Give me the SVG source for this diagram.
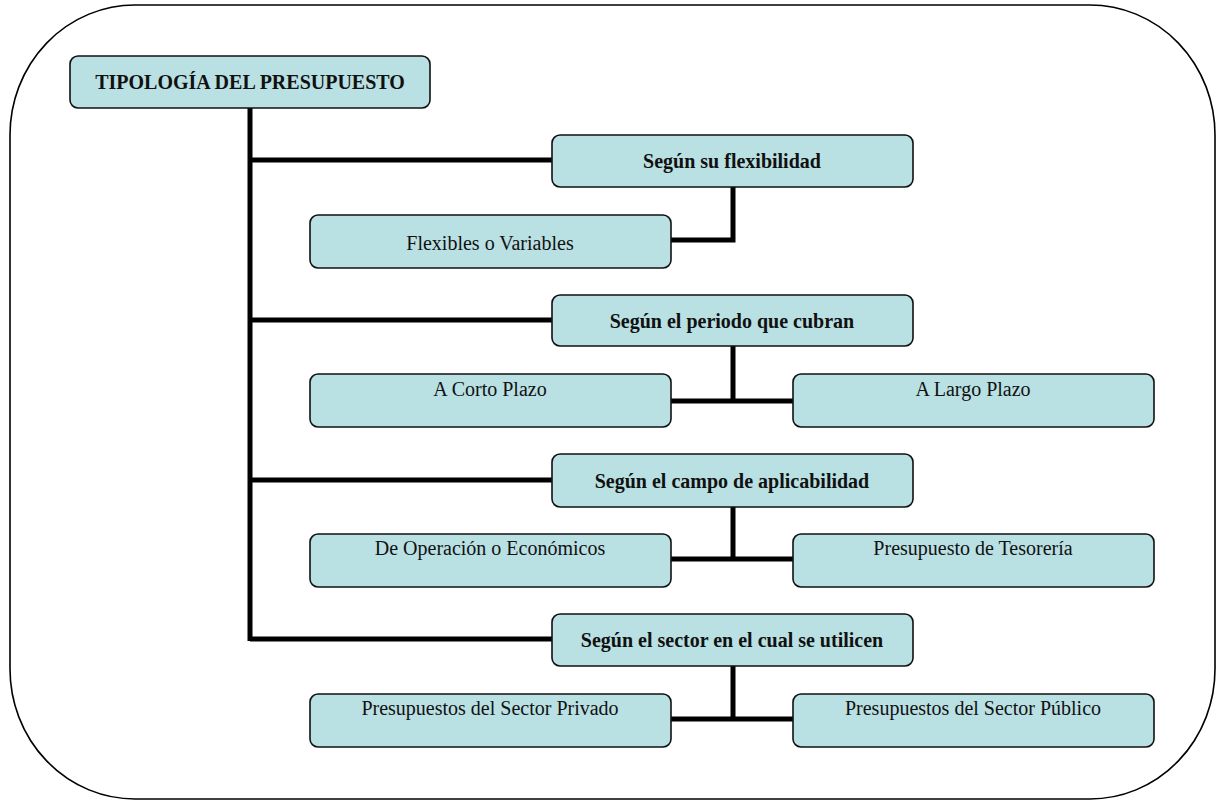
<svg xmlns="http://www.w3.org/2000/svg" width="1224" height="800" viewBox="0 0 1224 800">
<style>
.box{fill:#b9e0e3;stroke:#111;stroke-width:1.6}
.t{font-family:"Liberation Serif","Times New Roman",serif;font-size:20px;fill:#111;text-anchor:middle}
.b{font-weight:bold}
.c{fill:none;stroke:#000;stroke-width:5}
</style>
<rect x="0" y="0" width="1224" height="800" fill="#fff"/>
<rect id="frame" x="10" y="5" width="1205" height="794" rx="125" ry="130" fill="none" stroke="#000" stroke-width="1.6"/>
<g id="connectors">
<path class="c" d="M250 108 V641"/>
<path class="c" d="M250 160 H552"/>
<path class="c" d="M250 320 H552"/>
<path class="c" d="M250 480 H552"/>
<path class="c" d="M250 639 H552"/>
<path class="c" d="M733 187 V240 H671"/>
<path class="c" d="M733 346 V401"/>
<path class="c" d="M671 401 H793"/>
<path class="c" d="M733 507 V559"/>
<path class="c" d="M671 559 H793"/>
<path class="c" d="M733 666 V719"/>
<path class="c" d="M671 719 H793"/>
</g>
<g id="root"><rect class="box" x="70" y="56" width="360" height="52" rx="8"/><text class="t b" x="250" y="89">TIPOLOGÍA DEL PRESUPUESTO</text></g>
<g id="flex"><rect class="box" x="552" y="135" width="361" height="52" rx="8"/><text class="t b" x="732" y="168">Según su flexibilidad</text></g>
<g id="flexibles"><rect class="box" x="310" y="215" width="361" height="53" rx="8"/><text class="t" x="490" y="250">Flexibles o Variables</text></g>
<g id="periodo"><rect class="box" x="552" y="295" width="361" height="51" rx="8"/><text class="t b" x="732" y="328">Según el periodo que cubran</text></g>
<g id="corto"><rect class="box" x="310" y="374" width="361" height="53" rx="8"/><text class="t" x="490" y="396">A Corto Plazo</text></g>
<g id="largo"><rect class="box" x="793" y="374" width="361" height="53" rx="8"/><text class="t" x="973" y="396">A Largo Plazo</text></g>
<g id="campo"><rect class="box" x="552" y="454" width="361" height="53" rx="8"/><text class="t b" x="732" y="488">Según el campo de aplicabilidad</text></g>
<g id="operacion"><rect class="box" x="310" y="534" width="361" height="53" rx="8"/><text class="t" x="490" y="555">De Operación o Económicos</text></g>
<g id="tesoreria"><rect class="box" x="793" y="534" width="361" height="53" rx="8"/><text class="t" x="973" y="555">Presupuesto de Tesorería</text></g>
<g id="sector"><rect class="box" x="552" y="614" width="361" height="52" rx="8"/><text class="t b" x="732" y="647">Según el sector en el cual se utilicen</text></g>
<g id="privado"><rect class="box" x="310" y="694" width="361" height="53" rx="8"/><text class="t" x="490" y="715">Presupuestos del Sector Privado</text></g>
<g id="publico"><rect class="box" x="793" y="694" width="361" height="53" rx="8"/><text class="t" x="973" y="715">Presupuestos del Sector Público</text></g>
</svg>
